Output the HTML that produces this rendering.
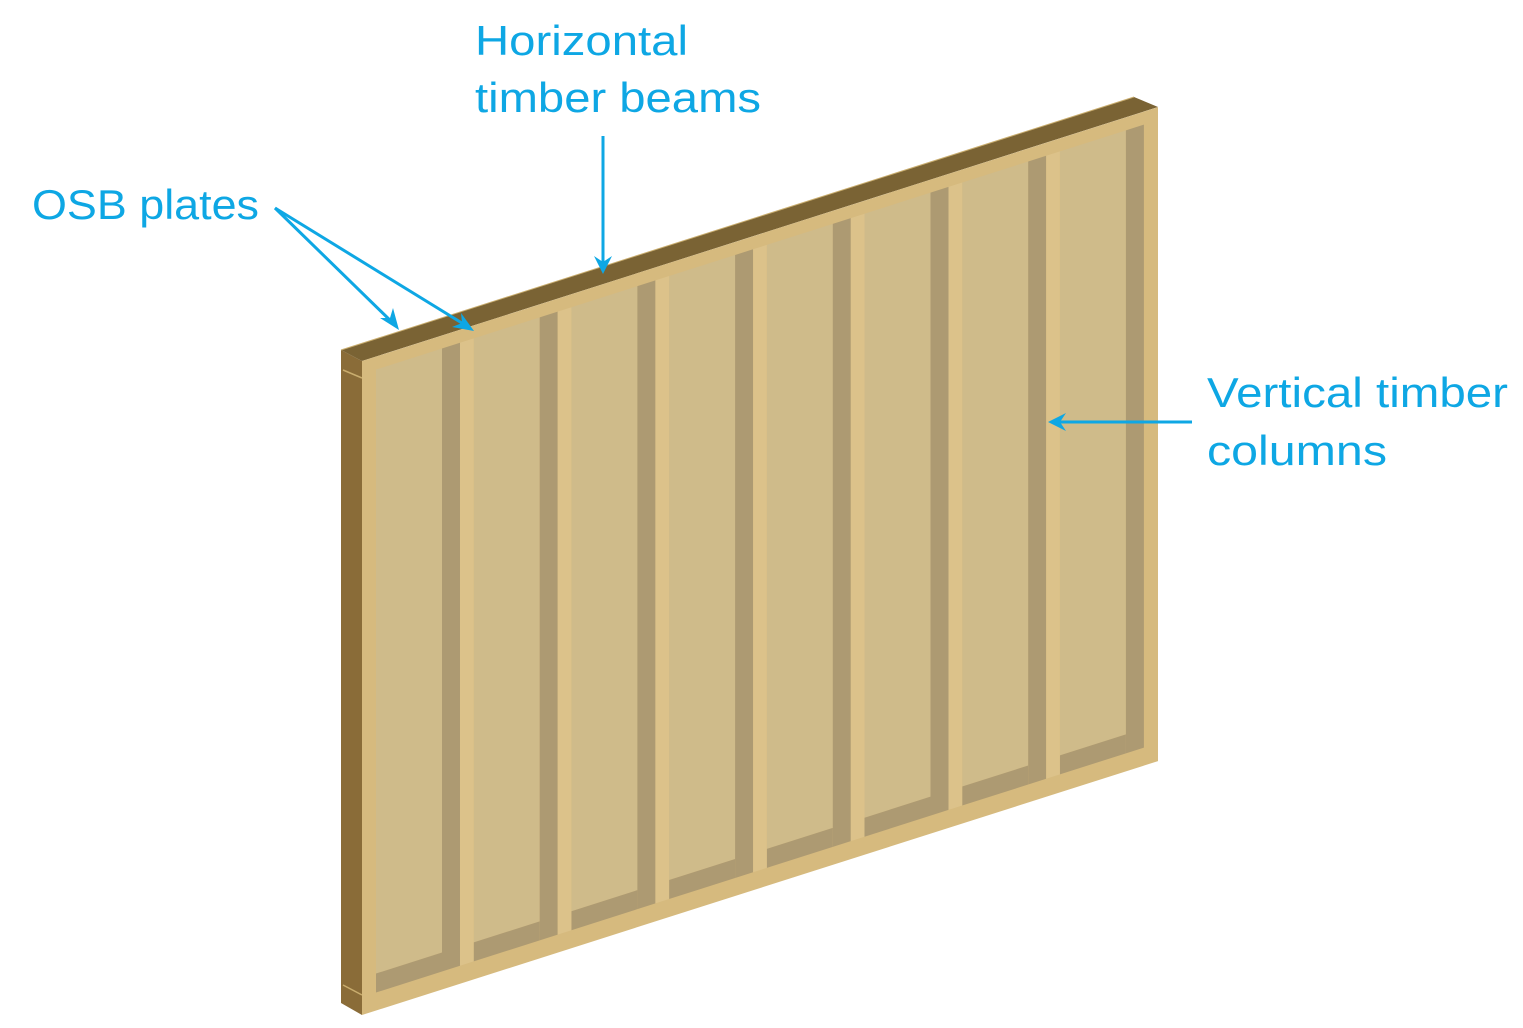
<!DOCTYPE html>
<html><head><meta charset="utf-8"><style>html,body{margin:0;padding:0;background:#fff}svg{display:block}</style></head>
<body>
<svg width="1523" height="1028" viewBox="0 0 1523 1028" xmlns="http://www.w3.org/2000/svg">
<defs>
<marker id="ah" viewBox="0 0 10 10" refX="9" refY="5" markerWidth="6" markerHeight="6" orient="auto" markerUnits="userSpaceOnUse">
</marker>
</defs>
<!-- side face -->
<polygon points="341,350 362,361 362,1015 341,1003" fill="#8a6c38"/>
<line x1="343" y1="370" x2="362" y2="378" stroke="#c9ad6e" stroke-width="1.5"/>
<line x1="343" y1="985" x2="362" y2="995" stroke="#c9ad6e" stroke-width="1.5"/>
<!-- top face -->
<polygon points="341,350 1134,97 1158,107 362,361" fill="#7a6334"/>
<line x1="341" y1="350" x2="1134" y2="97" stroke="#c9ad6e" stroke-width="1"/>
<g transform="matrix(1,-0.319,0,1,0,115.5)">
  <rect x="362" y="361" width="796" height="654" fill="#d6ba7e"/>
  <g id="bays">
  </g>
  <!-- bays generated -->
  <g fill="#cfbb8a">
    <rect x="376" y="374" width="66" height="604"/>
    <rect x="473.7" y="374" width="66" height="604"/>
    <rect x="571.4" y="374" width="66" height="604"/>
    <rect x="669.1" y="374" width="66" height="604"/>
    <rect x="766.8" y="374" width="66" height="604"/>
    <rect x="864.5" y="374" width="66" height="604"/>
    <rect x="962.2" y="374" width="66" height="604"/>
    <rect x="1059.9" y="374" width="66" height="604"/>
  </g>
  <g fill="#ad9a72">
    <rect x="442" y="374" width="18" height="623"/>
    <rect x="539.7" y="374" width="18" height="623"/>
    <rect x="637.4" y="374" width="18" height="623"/>
    <rect x="735.1" y="374" width="18" height="623"/>
    <rect x="832.8" y="374" width="18" height="623"/>
    <rect x="930.5" y="374" width="18" height="623"/>
    <rect x="1028.2" y="374" width="18" height="623"/>
    <rect x="1125.9" y="374" width="18" height="623"/>
    <rect x="376" y="978" width="66" height="19"/>
    <rect x="473.7" y="978" width="66" height="19"/>
    <rect x="571.4" y="978" width="66" height="19"/>
    <rect x="669.1" y="978" width="66" height="19"/>
    <rect x="766.8" y="978" width="66" height="19"/>
    <rect x="864.5" y="978" width="66" height="19"/>
    <rect x="962.2" y="978" width="66" height="19"/>
    <rect x="1059.9" y="978" width="66" height="19"/>
  </g>
  <g fill="#dcc28a">
    <rect x="460" y="374" width="13.7" height="623"/>
    <rect x="557.7" y="374" width="13.7" height="623"/>
    <rect x="655.4" y="374" width="13.7" height="623"/>
    <rect x="753.1" y="374" width="13.7" height="623"/>
    <rect x="850.8" y="374" width="13.7" height="623"/>
    <rect x="948.5" y="374" width="13.7" height="623"/>
    <rect x="1046.2" y="374" width="13.7" height="623"/>
  </g>
</g>
<g fill="none" stroke="#0ea7e4" stroke-width="3">
  <line x1="603" y1="136" x2="603" y2="270"/>
  <line x1="275" y1="208" x2="396" y2="326"/>
  <line x1="275" y1="208" x2="470" y2="328"/>
  <line x1="1192" y1="422" x2="1052" y2="422"/>
</g>
<g fill="#0ea7e4">
  <polygon points="603,274 594,256 603,262 612,256"/>
  <polygon points="399,330 380,318 390,318 393,308"/>
  <polygon points="474,331 452,327 462,323 461,313"/>
  <polygon points="1048,422 1066,413 1060,422 1066,431"/>
</g>
<g font-family="Liberation Sans, sans-serif" font-size="42" fill="#0ea7e4">
  <text x="475" y="55" textLength="213" lengthAdjust="spacingAndGlyphs">Horizontal</text>
  <text x="475" y="112" textLength="286" lengthAdjust="spacingAndGlyphs">timber beams</text>
  <text x="32" y="219" textLength="227" lengthAdjust="spacingAndGlyphs">OSB plates</text>
  <text x="1207" y="407" textLength="301" lengthAdjust="spacingAndGlyphs">Vertical timber</text>
  <text x="1207" y="465" textLength="180" lengthAdjust="spacingAndGlyphs">columns</text>
</g>
</svg>
</body></html>
